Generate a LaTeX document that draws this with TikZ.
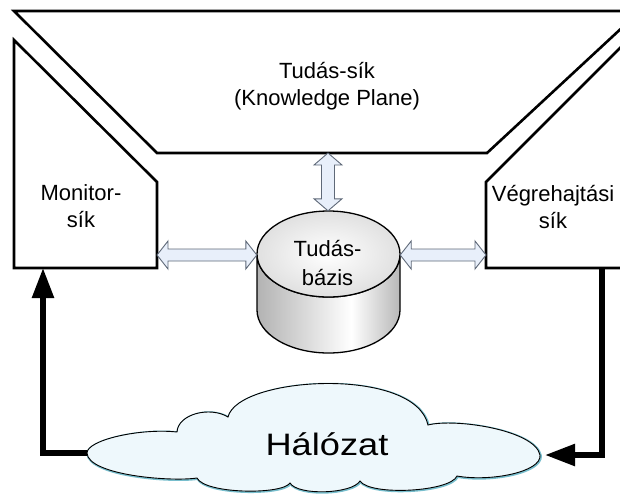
\documentclass[tikz,border=0pt]{standalone}
\usepackage{fontspec}
\setmainfont{Liberation Sans}
\usetikzlibrary{arrows.meta,calc}

\definecolor{dblfill}{RGB}{232,239,250}
\definecolor{dbldraw}{RGB}{95,105,120}
\definecolor{cloudfill}{RGB}{238,248,252}
\definecolor{cloudglow}{RGB}{120,190,205}

\pgfdeclarehorizontalshading{cylside}{100bp}{%
  color(0bp)=(black!30); color(25bp)=(black!30);
  color(58bp)=(white); color(75bp)=(black!28); color(100bp)=(black!28)}

\tikzset{
  plane/.style={draw=black, line width=2.6pt, fill=white, line join=miter},
  planetext/.style={font=\fontsize{22}{27}\selectfont, align=center, inner sep=0pt},
  dbtext/.style={font=\fontsize{22}{29}\selectfont, align=center, inner sep=0pt},
  dblarr/.style={draw=dbldraw, fill=dblfill, line width=0.9pt, line join=miter},
  flow/.style={line width=5.5pt, -{Triangle[length=30pt,width=21pt]}},
}

\begin{document}
\begin{tikzpicture}[x=1pt, y=-1pt]
\useasboundingbox (0,0) rectangle (620,493);

% knowledge plane (trapezoid at the top)
\draw[plane] (14,11) -- (640,11) -- (487,153) -- (157,153) -- cycle;
% monitor plane
\draw[plane] (14,40) -- (157,182) -- (157,268) -- (14,268) -- cycle;
% execution plane
\draw[plane] (486,268) -- (486,182) -- (640,28) -- (640,268) -- cycle;

\node[planetext] (kp)  at (327,86)  {Tudás-sík\\(Knowledge Plane)};
\node[planetext] (mon) at (81,206)  {Monitor-\\sík};
\node[planetext] (exe) at (553,207) {Végrehajtási\\sík};

% plane edges the connectors attach to
\coordinate (kpB)  at (328,153);
\coordinate (monE) at (157,255);
\coordinate (exeW) at (486,255);
\coordinate (monB) at (43,268);
\coordinate (exeB) at (602,268);

% knowledge base cylinder
\node[minimum width=143pt, minimum height=142pt, inner sep=0pt] (db) at (328.5,282) {};
\path[shading=cylside, draw=black, line width=1.3pt]
  (257,254) -- (257,310)
  arc[start angle=180, end angle=360, x radius=71.5pt, y radius=43pt]
  -- (400,254)
  arc[start angle=0, end angle=-180, x radius=71.5pt, y radius=43pt] -- cycle;
\path[inner color=white, outer color=black!12, draw=black, line width=1.3pt]
  (328.5,254) ellipse[x radius=71.5pt, y radius=43pt];
\node[dbtext] at (327.5,263) {Tudás-\\bázis};

% double arrows between the planes and the knowledge base
\path[dblarr] let \p1=(kpB), \p2=(db.north) in
  (\x1,\y1) -- (\x1+14pt,\y1-12pt) -- (\x1+6.5pt,\y1-12pt)
  -- (\x1+6.5pt,\y2+12pt) -- (\x1+14pt,\y2+12pt) -- (\x1,\y2)
  -- (\x1-14pt,\y2+12pt) -- (\x1-6.5pt,\y2+12pt)
  -- (\x1-6.5pt,\y1-12pt) -- (\x1-14pt,\y1-12pt) -- cycle;
\path[dblarr] let \p1=(monE), \p2=(db.west |- monE) in
  (\x1,\y1) -- (\x1+11pt,\y1+14pt) -- (\x1+11pt,\y1+6pt)
  -- (\x2-11pt,\y1+6pt) -- (\x2-11pt,\y1+14pt) -- (\x2,\y1)
  -- (\x2-11pt,\y1-14pt) -- (\x2-11pt,\y1-6pt)
  -- (\x1+11pt,\y1-6pt) -- (\x1+11pt,\y1-14pt) -- cycle;
\path[dblarr] let \p1=(db.east |- exeW), \p2=(exeW) in
  (\x1,\y1) -- (\x1+11pt,\y1+14pt) -- (\x1+11pt,\y1+6pt)
  -- (\x2-11pt,\y1+6pt) -- (\x2-11pt,\y1+14pt) -- (\x2,\y1)
  -- (\x2-11pt,\y1-14pt) -- (\x2-11pt,\y1-6pt)
  -- (\x1+11pt,\y1-6pt) -- (\x1+11pt,\y1-14pt) -- cycle;

% network cloud
\coordinate (netW) at (87,453);
\coordinate (netE) at (540,455);
\path[fill=cloudfill, draw=black, line width=0.9pt,
      preaction={draw=cloudglow, line width=2.6pt, transform canvas={shift={(0.6pt,-0.6pt)}}}]
  (netW) .. controls (87,440) and (140,428) .. (177,432)
  .. controls (178,414) and (210,406) .. (228,417)
  .. controls (238,376) and (415,366) .. (428,425)
  .. controls (455,418) and (535,430) .. (netE)
  .. controls (542,472) and (490,482) .. (457,476)
  .. controls (450,492) and (370,496) .. (360,481)
  .. controls (352,494) and (298,496) .. (290,483)
  .. controls (282,495) and (205,494) .. (197,478)
  .. controls (170,482) and (88,475) .. (netW) -- cycle;
\node[inner sep=0pt, anchor=base, font=\fontsize{31}{36}\selectfont] (net) at (327,455)
  {\scalebox{1.17}[1]{Hálózat}};

% feedback loop through the network
\draw[flow] (netW) -| (monB);
\draw[flow] (exeB) |- ($(netE)+(5,0)$);
\end{tikzpicture}
\end{document}
